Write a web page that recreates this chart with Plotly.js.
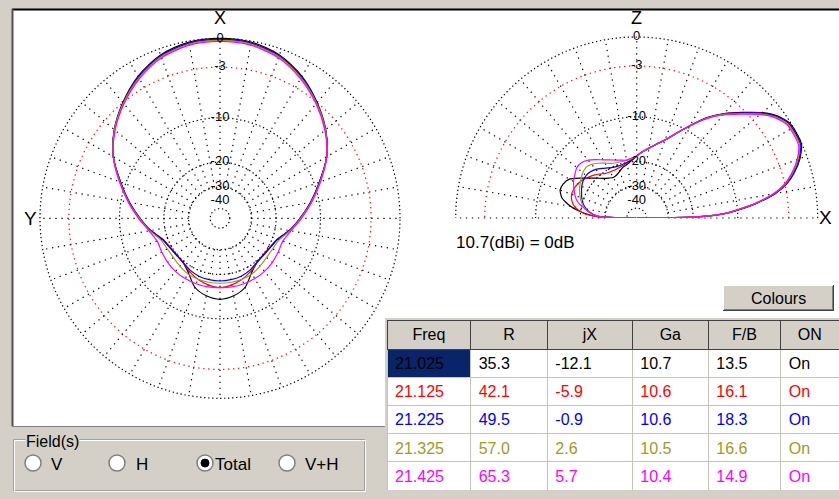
<!DOCTYPE html>
<html><head><meta charset="utf-8">
<script src="https://cdn.plot.ly/plotly-3.0.1.min.js"></script>
<style>html,body{margin:0;padding:0;background:#d4d0c8;}#chart{width:839px;height:499px;}</style>
</head><body><div id="chart"></div>
<script>
// ---------- table data ----------
const tableHeader = ['Freq','R','jX','Ga','F/B','ON'];
const freqs = ['21.025','21.125','21.225','21.325','21.425'];
const colR  = ['35.3','42.1','49.5','57.0','65.3'];
const colJX = ['-12.1','-5.9','-0.9','2.6','5.7'];
const colGa = ['10.7','10.6','10.6','10.5','10.4'];
const colFB = ['13.5','16.1','18.3','16.6','14.9'];
const colOn = ['On','On','On','On','On'];
const seriesColors = ['#000000','#ff0000','#0000ff','#a09a1e','#ff00ff'];

// ---------- azimuth pattern (dB rel. 10.7 dBi), 0..180 deg, symmetric ----------
const azAngles = [0,10,20,30,40,50,60,70,80,90,100,110,120,130,140,150,160,170,180];
const azBlack   = [0.0,-0.1,-0.6,-1.6,-3.0,-4.55,-6.5,-9.1,-11.5,-13.9,-16.1,-18.5,-19.4,-19.8,-19.6,-18.0,-15.4,-14.2,-13.7];
const azRed     = [-0.1,-0.2,-0.7,-1.7,-3.1,-4.6,-6.5,-9.1,-11.5,-13.9,-16.1,-18.6,-19.6,-19.9,-19.5,-18.5,-17.5,-16.8,-16.4];
const azBlue    = [-0.1,-0.2,-0.7,-1.7,-3.1,-4.6,-6.5,-9.1,-11.5,-13.9,-16.1,-18.5,-19.4,-19.7,-19.6,-18.9,-18.4,-18.2,-18.1];
const azOlive   = [-0.2,-0.3,-0.8,-1.8,-3.1,-4.6,-6.5,-9.0,-11.4,-13.8,-15.9,-18.0,-18.6,-18.6,-18.2,-17.7,-17.5,-17.5,-17.5];
const azMagenta = [-0.3,-0.4,-0.9,-1.9,-3.2,-4.7,-6.5,-8.9,-11.3,-13.6,-15.7,-17.0,-16.9,-16.6,-16.4,-16.3,-16.3,-16.3,-16.4];

// ---------- elevation pattern (dB rel. 10.7 dBi), 0..180 deg ----------
const elAngles = [0,1,2,3,5,7,10,13,16,20,24,28,32,36,40,45,50,55,60,65,70,75,80,85,
                  90,95,100,105,110,115,120,125,130,135,140,145,150,155,160,165,170,175,178,180];
const elBlack   = [-99,-20.0,-14.5,-12.0,-9.3,-6.9,-4.3,-2.7,-1.7,-0.7,-0.05,0.0,-0.1,-0.7,-1.7,-3.3,-4.85,-6.7,-9.1,-11.4,-13.4,-14.8,-16.1,-17.2,
                   -18.4,-19.6,-20.6,-21.2,-22.2,-23.0,-23.2,-22.5,-21.5,-20.0,-18.4,-16.4,-14.5,-13.8,-13.7,-14.6,-17.0,-21.5,-26.5,-99];
const elRed     = [-99,-20.2,-14.6,-12.1,-9.4,-7.0,-4.4,-2.8,-1.8,-0.8,-0.15,-0.1,-0.2,-0.8,-1.8,-3.4,-4.9,-6.75,-9.1,-11.4,-13.4,-14.8,-16.1,-17.2,
                   -18.4,-19.5,-20.2,-20.7,-21.0,-21.2,-21.0,-20.6,-19.7,-18.8,-18.0,-17.3,-16.8,-16.5,-16.5,-17.0,-18.2,-20.9,-26.0,-99];
const elBlue    = [-99,-20.3,-14.7,-12.1,-9.4,-7.0,-4.4,-2.8,-1.8,-0.8,-0.15,-0.1,-0.2,-0.8,-1.8,-3.4,-4.9,-6.75,-9.1,-11.4,-13.4,-14.8,-16.1,-17.2,
                   -18.4,-19.4,-20.0,-20.3,-20.4,-20.2,-19.6,-18.8,-18.0,-17.5,-17.3,-17.5,-18.0,-18.7,-19.4,-20.3,-21.7,-24.3,-28.0,-99];
const elOlive   = [-99,-20.4,-14.8,-12.2,-9.5,-7.1,-4.5,-2.9,-1.9,-0.9,-0.25,-0.2,-0.3,-0.9,-1.9,-3.5,-5.0,-6.8,-9.1,-11.4,-13.4,-14.8,-16.1,-17.2,
                   -18.4,-19.1,-19.4,-19.4,-19.3,-18.9,-18.0,-17.1,-16.3,-15.9,-16.2,-16.8,-17.4,-18.1,-18.9,-19.9,-21.3,-24.0,-28.0,-99];
const elMagenta = [-99,-20.5,-14.9,-12.3,-9.6,-7.2,-4.6,-3.0,-2.0,-1.0,-0.35,-0.3,-0.4,-1.0,-2.0,-3.6,-5.1,-6.9,-9.1,-11.3,-13.3,-14.7,-16.0,-17.1,
                   -18.3,-18.9,-19.3,-19.0,-18.5,-17.8,-17.0,-16.0,-15.0,-14.4,-14.4,-15.0,-15.6,-16.5,-17.4,-18.7,-21.2,-24.0,-27.0,-99];

// ---------- scale labels ----------
const ringLabels = ['0','-3','-10','-20','-30','-40'];
const ringValues = [0,-3,-10,-20,-30,-40];
const gridRingValues = [0,-10,-20,-30,-50];
const redRingValue = -3;
const gainNote = '10.7(dBi) = 0dB';

// ARRL-style log scale: 2 dB per 0.89 factor
function toR(db){ return Math.pow(0.89, -db/2); }

const W = 839, H = 499;
const px = x => x / W;
const py = y => 1 - y / H;
const FONT = 'Liberation Sans, Arial, sans-serif';
const RMAX = 1.03;

const azSets = [azBlack, azRed, azBlue, azOlive, azMagenta];
const elSets = [elBlack, elRed, elBlue, elOlive, elMagenta];

const traces = [];
// anchor traces so that the grid-only layers are drawn
['polar','polar2','polar4','polar5'].forEach(sp => {
  traces.push({type:'scatterpolar', subplot: sp, mode:'markers', r:[0.5], theta:[0],
    marker:{size:1, color:'rgba(0,0,0,0)'}, hoverinfo:'skip'});
});
// Azimuth (left)
const azTheta = azAngles.concat(azAngles.slice(0, -1).reverse().map(a => 360 - a));
azSets.forEach((vals, i) => {
  const full = vals.concat(vals.slice(0, -1).reverse());
  traces.push({type:'scatterpolar', subplot:'polar3', mode:'lines', theta: azTheta, r: full.map(toR),
    line:{color: seriesColors[i], width:1.2, shape:'spline', smoothing:0.8}, hoverinfo:'skip'});
});
traces.push({type:'scatterpolar', subplot:'polar3', mode:'text', theta: ringValues.map(() => 0), r: ringValues.map(toR),
  text: ringLabels, textposition:'middle center', textfont:{family:FONT, size:13, color:'#000'}, cliponaxis:false, hoverinfo:'skip'});
// Elevation (right)
elSets.forEach((vals, i) => {
  traces.push({type:'scatterpolar', subplot:'polar6', mode:'lines', theta: elAngles, r: vals.map(toR),
    line:{color: seriesColors[i], width:1.2, shape:'spline', smoothing:0.6}, hoverinfo:'skip'});
});
traces.push({type:'scatterpolar', subplot:'polar6', mode:'text', theta: ringValues.map(() => 90), r: ringValues.map(toR),
  text: ringLabels, textposition:'middle center', textfont:{family:FONT, size:13, color:'#000'}, cliponaxis:false, hoverinfo:'skip'});

// Table
const cellFills = tableHeader.map((h, c) => freqs.map((f, r) => (c === 0 && r === 0) ? '#0a246a' : '#ffffff'));
const cellFonts = tableHeader.map(() => seriesColors);
traces.push({
  type:'table',
  domain:{x:[px(387), 1], y:[py(490), py(320)]},
  columnwidth:[83.7, 76.6, 85, 76, 72.4, 58.3],
  header:{values: tableHeader.map(h => [h]), align:'center', height:29,
    fill:{color:'#d4d0c8'}, line:{color:'#404040', width:1},
    font:{family:FONT, size:16, color:'#000'}},
  cells:{values:[freqs, colR, colJX, colGa, colFB, colOn], align:'left', height:28.2,
    fill:{color: cellFills}, line:{color:'#c8c4bc', width:1},
    font:{family:FONT, size:16, color: cellFonts}}
});

const spokeDash = '1.3px,4.7px';
const ringDash = '1.3px,2.7px';
const redDash = '1.3px,3.7px';
const spokeAx = {tickmode:'linear', tick0:0, dtick:10, showgrid:true, gridcolor:'#000', griddash:spokeDash, gridwidth:1.2,
                 showline:false, showticklabels:false, ticks:''};
const noAng = {showgrid:false, showline:false, showticklabels:false, ticks:''};
const hole = toR(-30);

// cx, cy, R in pixels; half = upper half-disk
function domFor(cx, cy, R, half){
  return {x:[px(cx - R), px(cx + R)], y:[py(cy + (half ? 0 : R)), py(cy - R)]};
}
function layers(cx, cy, R, ang, sector){
  const half = sector[1] - sector[0] === 180;
  const p1 = {domain: domFor(cx, cy, R, half), bgcolor:'rgba(0,0,0,0)', hole: hole, sector: sector,
    radialaxis:{range:[hole, 1], showgrid:false, showline:false, showticklabels:false, ticks:''},
    angularaxis:Object.assign({}, spokeAx, ang)};
  const dom = domFor(cx, cy, R * RMAX, half);
  const p2 = {domain: dom, bgcolor:'rgba(0,0,0,0)', sector: sector,
    radialaxis:{range:[0, RMAX], tickmode:'array', tickvals:[toR(redRingValue)], showgrid:true, gridcolor:'#ff0000',
      griddash:redDash, gridwidth:1.2, showline:false, showticklabels:false, ticks:''},
    angularaxis:Object.assign({}, noAng, ang)};
  const p3 = {domain: dom, bgcolor:'rgba(0,0,0,0)', sector: sector,
    radialaxis:{range:[0, RMAX], tickmode:'array', tickvals: gridRingValues.map(toR), showgrid:true, gridcolor:'#000',
      griddash:ringDash, gridwidth:1.2, showline:false, showticklabels:false, ticks:''},
    angularaxis:Object.assign({}, noAng, ang)};
  return [p1, p2, p3];
}
const L = layers(220, 218.3, 180, {rotation:90, direction:'clockwise'}, [0, 360]);
const R = layers(636.7, 218, 181, {rotation:0, direction:'counterclockwise'}, [0, 180]);

function rect(x0,y0,x1,y1,fill,line,lw){ return {type:'rect', xref:'paper', yref:'paper', x0:px(x0), x1:px(x1), y0:py(y1), y1:py(y0),
  fillcolor: fill || 'rgba(0,0,0,0)', line:{color: line || 'rgba(0,0,0,0)', width: lw === undefined ? 1 : lw}, layer:'below'}; }
function seg(x0,y0,x1,y1,color,w){ return {type:'line', xref:'paper', yref:'paper', x0:px(x0), x1:px(x1), y0:py(y0), y1:py(y1),
  line:{color:color, width:w||1}, layer:'below'}; }
function circ(cx,cy,r,fill,line,lw){ return {type:'circle', xref:'paper', yref:'paper', x0:px(cx-r), x1:px(cx+r), y0:py(cy+r), y1:py(cy-r),
  fillcolor: fill, line:{color:line, width:lw||1}, layer:'above'}; }

const shapes = [
  rect(13, 10, 839, 426, '#ffffff', null, 0),
  seg(12, 9.5, 839, 9.5, '#000', 2),
  seg(12.5, 9, 12.5, 426, '#505050', 2),
  seg(12, 426.5, 386, 426.5, '#808080', 1),
  rect(385, 318, 839, 499, '#d4d0c8', null, 0),
  // Colours button
  rect(723, 285, 834, 311, '#d4d0c8', null, 0),
  seg(723, 285.5, 834, 285.5, '#ffffff', 1), seg(723.5, 285, 723.5, 311, '#ffffff', 1),
  seg(723, 310.5, 834, 310.5, '#404040', 1), seg(833.5, 285, 833.5, 311, '#404040', 1),
  seg(724, 309.5, 833, 309.5, '#808080', 1), seg(832.5, 286, 832.5, 310, '#808080', 1),
  // Field(s) group box
  rect(13.5, 439.5, 364.5, 490.5, null, '#a0a0a0', 1),
  rect(14.5, 440.5, 365.5, 491.5, null, '#ffffff', 1),
];
const radioX = [33, 117, 205, 287];
radioX.forEach(cx => {
  shapes.push(circ(cx, 463, 8, '#ffffff', '#808080', 1.5));
});
shapes.push(circ(205, 463, 4, '#000000', '#000000', 1));

const ann = (text, x, y, size, xa, extra) => Object.assign({text:text, xref:'paper', yref:'paper', x:px(x), y:py(y),
  xanchor: xa || 'center', yanchor:'middle', showarrow:false, font:{family:FONT, size:size, color:'#000'}}, extra || {});
const annotations = [
  ann('X', 220, 18.5, 18), ann('Y', 30, 218, 19),
  ann('Z', 636.7, 18.5, 18), ann('X', 825, 217, 19),
  ann(gainNote, 454, 243, 17, 'left'),
  ann('Colours', 778.5, 298, 16),
  ann('Field(s)', 25, 441, 16, 'left', {bgcolor:'#d4d0c8', borderpad:0}),
  ann('V', 49, 464, 17, 'left'), ann('H', 134, 464, 17, 'left'),
  ann('Total', 213, 464, 17, 'left'), ann('V+H', 303, 464, 17, 'left'),
];

const layout = {
  width: W, height: H, margin:{l:0, r:0, t:0, b:0}, paper_bgcolor:'#d4d0c8', plot_bgcolor:'rgba(0,0,0,0)',
  showlegend:false,
  polar: L[0], polar2: L[1], polar3: L[2],
  polar4: R[0], polar5: R[1], polar6: R[2],
  shapes: shapes, annotations: annotations
};
Plotly.newPlot('chart', traces, layout, {staticPlot:true, displayModeBar:false});
</script></body></html>
